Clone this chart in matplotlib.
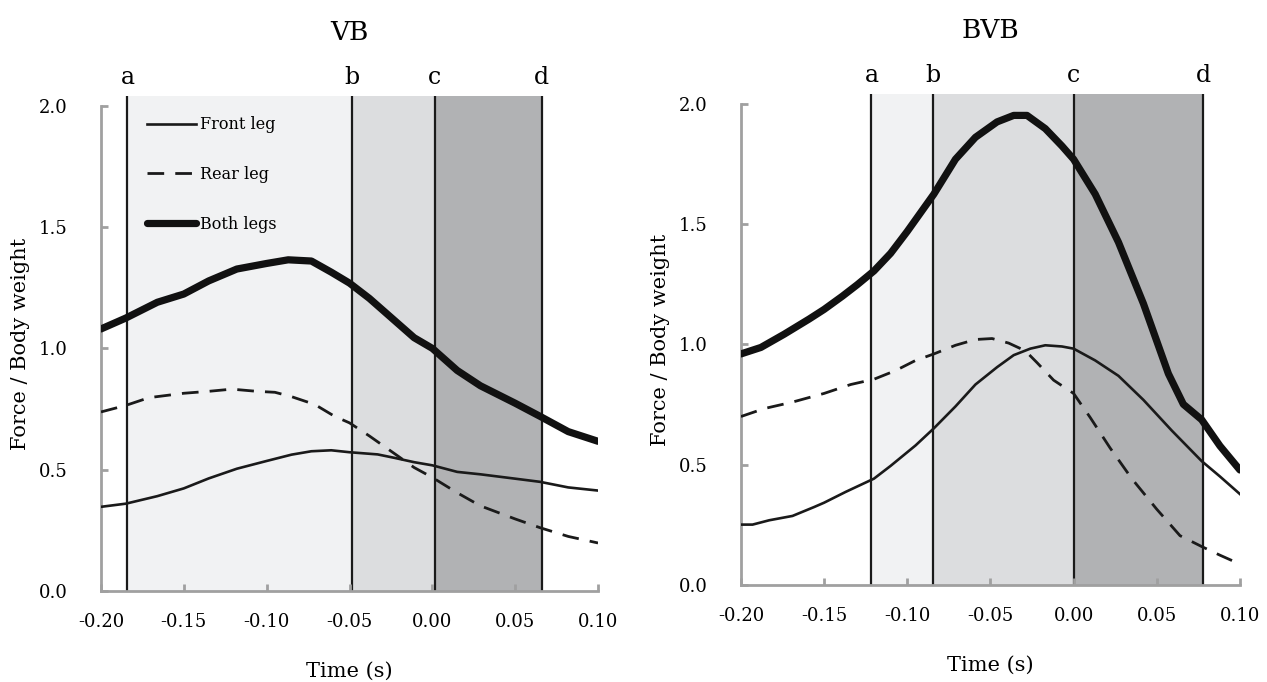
import matplotlib.pyplot as plt
import numpy as np

plt.rcParams['font.family'] = 'DejaVu Serif'

# ---- VB panel data ----
vb_t_both = [-0.200, -0.185, -0.166, -0.150, -0.135, -0.118, -0.100, -0.087, -0.073, -0.061,
             -0.050, -0.038, -0.023, -0.011, 0.000, 0.015, 0.029, 0.050, 0.065, 0.082, 0.100]
vb_both = [1.08, 1.125, 1.19, 1.224, 1.278, 1.327, 1.35, 1.365, 1.36, 1.314,
           1.269, 1.206, 1.116, 1.044, 1.0, 0.909, 0.846, 0.774, 0.72, 0.657, 0.617]

vb_t_rear = [-0.200, -0.185, -0.171, -0.150, -0.135, -0.121, -0.106, -0.095, -0.085, -0.071,
             -0.059, -0.050, -0.038, -0.023, -0.011, 0.000, 0.015, 0.029, 0.050, 0.065, 0.082, 0.100]
vb_rear = [0.738, 0.765, 0.797, 0.815, 0.823, 0.832, 0.823, 0.819, 0.801, 0.769,
           0.72, 0.693, 0.639, 0.567, 0.509, 0.468, 0.405, 0.351, 0.297, 0.261, 0.225, 0.198]

vb_t_front = [-0.200, -0.185, -0.166, -0.150, -0.135, -0.118, -0.100, -0.085, -0.073, -0.061,
              -0.050, -0.033, -0.023, -0.011, 0.000, 0.015, 0.029, 0.050, 0.065, 0.082, 0.100]
vb_front = [0.347, 0.36, 0.391, 0.423, 0.464, 0.504, 0.536, 0.562, 0.576, 0.58,
            0.572, 0.563, 0.549, 0.531, 0.518, 0.491, 0.481, 0.463, 0.45, 0.427, 0.414]

vb_marks = [-0.184, -0.0485, 0.0015, 0.066]

# ---- BVB panel data ----
bvb_t_both = [-0.200, -0.188, -0.174, -0.159, -0.150, -0.139, -0.130, -0.120, -0.110, -0.100,
              -0.084, -0.071, -0.059, -0.046, -0.036, -0.028, -0.017, -0.007, 0.000, 0.013,
              0.027, 0.042, 0.057, 0.066, 0.077, 0.088, 0.100]
bvb_both = [0.96, 0.987, 1.042, 1.105, 1.145, 1.20, 1.248, 1.305, 1.378, 1.469,
            1.624, 1.769, 1.86, 1.924, 1.951, 1.951, 1.896, 1.824, 1.769, 1.624,
            1.424, 1.169, 0.878, 0.751, 0.687, 0.578, 0.478]

bvb_t_rear = [-0.200, -0.186, -0.169, -0.150, -0.134, -0.120, -0.107, -0.095, -0.084, -0.071,
              -0.059, -0.049, -0.039, -0.029, -0.022, -0.012, 0.000, 0.010, 0.022, 0.035,
              0.050, 0.064, 0.077, 0.088, 0.100]
bvb_rear = [0.70, 0.733, 0.76, 0.796, 0.833, 0.855, 0.891, 0.933, 0.96, 0.996,
            1.02, 1.024, 1.005, 0.973, 0.924, 0.851, 0.796, 0.696, 0.569, 0.442,
            0.315, 0.205, 0.16, 0.124, 0.087]

bvb_t_front = [-0.200, -0.193, -0.183, -0.169, -0.156, -0.150, -0.137, -0.120, -0.110, -0.095,
               -0.084, -0.071, -0.059, -0.046, -0.036, -0.026, -0.017, -0.007, 0.000, 0.013,
               0.027, 0.042, 0.059, 0.077, 0.088, 0.100]
bvb_front = [0.251, 0.251, 0.269, 0.287, 0.324, 0.342, 0.387, 0.442, 0.495, 0.58,
             0.651, 0.742, 0.833, 0.905, 0.955, 0.982, 0.996, 0.991, 0.982, 0.933,
             0.869, 0.769, 0.642, 0.515, 0.451, 0.378]

bvb_marks = [-0.1215, -0.0845, 0.0, 0.078]

mark_labels = ['a', 'b', 'c', 'd']
shade_colors = ['#f1f2f3', '#dcdddf', '#b1b2b4']
xticks = [-0.20, -0.15, -0.10, -0.05, 0.00, 0.05, 0.10]
yticks = [0.0, 0.5, 1.0, 1.5, 2.0]
ytop = 2.04

fig = plt.figure(figsize=(12.67, 6.82), dpi=100)
ax1 = fig.add_axes([0.0797, 0.1334, 0.3923, 0.7258])
ax2 = fig.add_axes([0.5848, 0.1422, 0.3938, 0.7200])


def draw_panel(ax, title, marks, front, rear, both):
    for i in range(3):
        ax.axvspan(marks[i], marks[i + 1], color=shade_colors[i], lw=0, zorder=0)
    for m, lab in zip(marks, mark_labels):
        ax.axvline(m, color='#1a1a1a', lw=1.6, zorder=1)
        ax.text(m, ytop + 0.05, lab, ha='center', va='baseline', fontsize=17)
    ax.plot(front[0], front[1], color='#1a1a1a', lw=1.9, label='Front leg', zorder=3)
    ax.plot(rear[0], rear[1], color='#1a1a1a', lw=2.0, dashes=(6, 4), label='Rear leg', zorder=3)
    ax.plot(both[0], both[1], color='#111111', lw=5.2, label='Both legs', zorder=3,
            solid_capstyle='round', solid_joinstyle='round')
    ax.set_xlim(-0.20, 0.10)
    ax.set_ylim(0, ytop)
    ax.set_xticks(xticks)
    ax.set_xticklabels(['%.2f' % v for v in xticks])
    ax.set_yticks(yticks)
    ax.set_yticklabels(['%.1f' % v for v in yticks])
    ax.tick_params(direction='in', length=5, width=2, color='#a0a0a0',
                   labelsize=13, pad=16)
    ax.tick_params(axis='y', pad=24)
    for s in ['top', 'right']:
        ax.spines[s].set_visible(False)
    for s in ['left', 'bottom']:
        ax.spines[s].set_color('#a0a0a0')
        ax.spines[s].set_linewidth(2)
    ax.spines['left'].set_bounds(0, 2.0)
    ax.set_xlabel('Time (s)', fontsize=15, labelpad=22)
    ax.set_ylabel('Force / Body weight', fontsize=15, labelpad=6)
    ax.set_title(title, fontsize=19, pad=40)


draw_panel(ax1, 'VB', vb_marks, (vb_t_front, vb_front), (vb_t_rear, vb_rear),
           (vb_t_both, vb_both))
draw_panel(ax2, 'BVB', bvb_marks, (bvb_t_front, bvb_front), (bvb_t_rear, bvb_rear),
           (bvb_t_both, bvb_both))

ax1.legend(loc='upper left', bbox_to_anchor=(0.0926, 0.959), frameon=False,
           fontsize=11.5, handlelength=3.05, handletextpad=0.25, labelspacing=2.05,
           borderpad=0, borderaxespad=0)

fig.savefig('out.png', dpi=100)
